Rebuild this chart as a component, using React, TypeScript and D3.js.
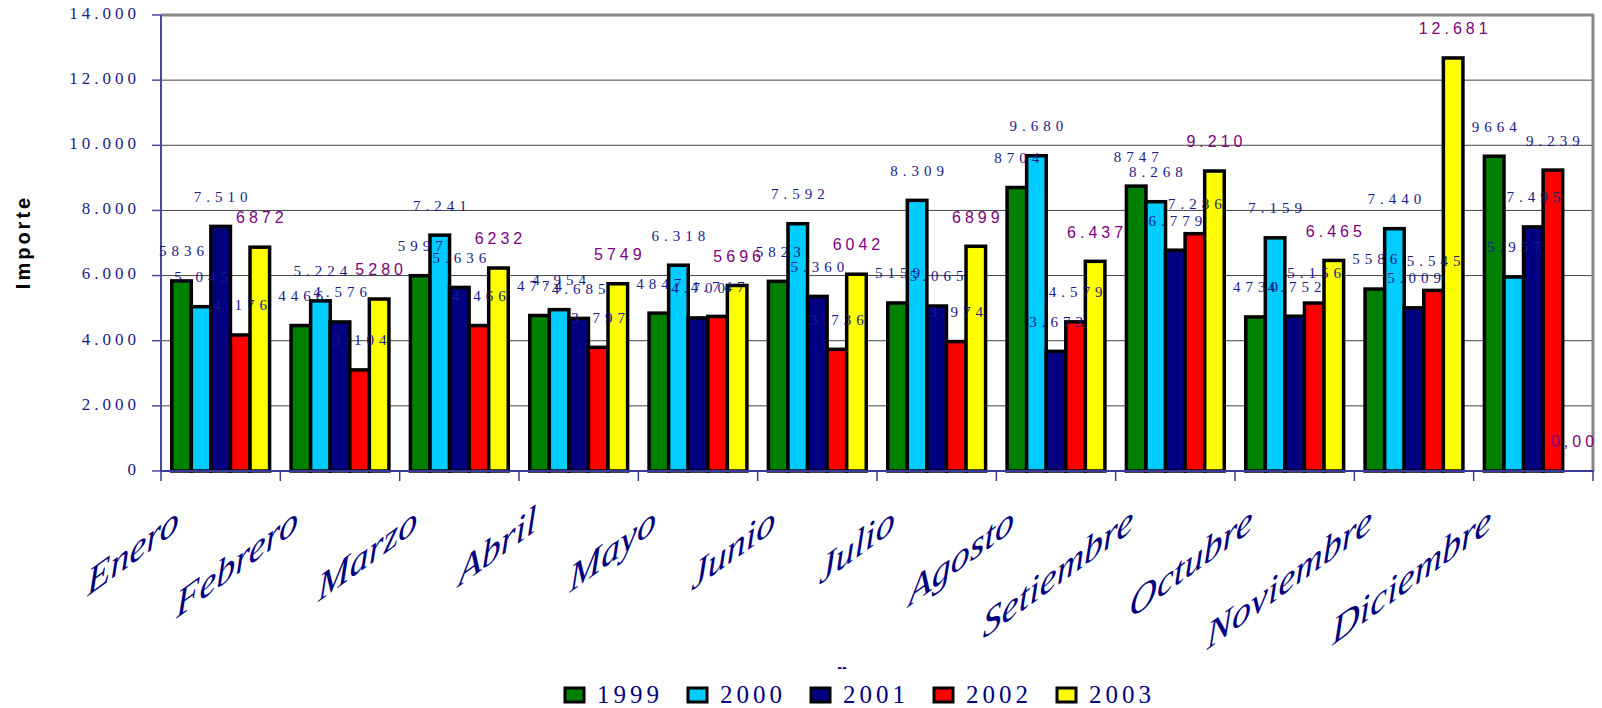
import * as d3 from 'd3'

// months + years
const months = ['Enero', 'Febrero', 'Marzo', 'Abril', 'Mayo', 'Junio', 'Julio', 'Agosto', 'Setiembre', 'Octubre', 'Noviembre', 'Diciembre']
const years = ['1999', '2000', '2001', '2002', '2003']

const v1999 = [5836, 4466, 5997, 4774, 4847, 5823, 5159, 8704, 8747, 4730, 5586, 9664]
const v2000 = [5045, 5224, 7241, 4954, 6318, 7592, 8309, 9680, 8268, 7159, 7440, 5957]
const v2001 = [7510, 4576, 5636, 4685, 4700, 5360, 5065, 3673, 6779, 4752, 5009, 7495]
const v2002 = [4176, 3104, 4466, 3797, 4747, 3736, 3974, 4579, 7286, 5156, 5545, 9239]
const v2003 = [6872, 5280, 6232, 5749, 5696, 6042, 6899, 6437, 9210, 6465, 12681, 0]

// labels exactly as printed on the chart
const t1999 = ['5836', '4466', '5997', '4774', '4847', '5823', '5159', '8704', '8747', '4730', '5586', '9664']
const t2000 = ['5.045', '5.224', '7.241', '4.954', '6.318', '7.592', '8.309', '9.680', '8.268', '7.159', '7.440', '5.957']
const t2001 = ['7.510', '4.576', '5.636', '4.685', '4.700', '5.360', '5.065', '3.673', '6.779', '4.752', '5.009', '7.495']
const t2002 = ['4.176', '3.104', '4.466', '3.797', '4.747', '3.736', '3.974', '4.579', '7.286', '5.156', '5.545', '9.239']
const t2003 = ['6872', '5280', '6232', '5749', '5696', '6042', '6899', '6.437', '9.210', '6.465', '12.681', '0,00']

const yTicks = [0, 2000, 4000, 6000, 8000, 10000, 12000, 14000]
const yTickLabels = ['0', '2.000', '4.000', '6.000', '8.000', '10.000', '12.000', '14.000']

const colors = ['#008000', '#00CCFF', '#000080', '#FF0000', '#FFFF00']

const W = 1602
const H = 708
const left = 161
const right = 1593
const top = 15
const bottom = 471

const navy = '#1a1a88'

export default function App() {
  const values = [v1999, v2000, v2001, v2002, v2003]
  const texts = [t1999, t2000, t2001, t2002, t2003]

  const y = d3.scaleLinear().domain([0, 14000]).range([bottom, top])
  const x0 = d3.scaleBand<string>().domain(months).range([left, right]).paddingInner(0.18).paddingOuter(0.09)
  const x1 = d3.scaleBand<string>().domain(years).range([0, x0.bandwidth()])
  const step = x0.step()

  const bars: { x: number; y: number; w: number; h: number; c: string; key: string }[] = []
  const labels: { x: number; y: number; t: string; s: number; key: string }[] = []
  years.forEach((yr, si) => {
    months.forEach((m, mi) => {
      const v = values[si][mi]
      const bx = (x0(m) as number) + (x1(yr) as number)
      bars.push({ x: bx, y: y(v), w: x1.bandwidth(), h: y(0) - y(v), c: colors[si], key: yr + m })
      labels.push({ x: bx + x1.bandwidth() / 2, y: y(v) - 28, t: texts[si][mi], s: si, key: 'l' + yr + m })
    })
  })

  return (
    <svg width={W} height={H} style={{ position: 'absolute', left: 0, top: 0, display: 'block', background: '#fff' }}>
      {/* gridlines */}
      {yTicks.slice(1, -1).map(t => (
        <line key={t} x1={left} x2={right} y1={y(t)} y2={y(t)} stroke="#444" strokeWidth={1} />
      ))}
      {/* frame top / right */}
      <line x1={left} x2={right + 1} y1={top} y2={top} stroke="#888" strokeWidth={3} />
      <line x1={right} x2={right} y1={top} y2={bottom} stroke="#888" strokeWidth={3} />

      {/* bars */}
      {bars.filter(b => b.h > 0).map(b => (
        <rect key={b.key} x={b.x} y={b.y} width={b.w} height={b.h} fill={b.c} stroke="#000" strokeWidth={3.5} />
      ))}

      {/* y axis */}
      <line x1={left} x2={left} y1={top} y2={bottom} stroke="#4848a0" strokeWidth={2} />
      {yTicks.map((t, i) => (
        <g key={'yt' + t}>
          <line x1={left - 9} x2={left} y1={y(t)} y2={y(t)} stroke="#4848a0" strokeWidth={1.5} />
          <text x={136 + 4} y={y(t)} textAnchor="end" dominantBaseline="middle"
            fontFamily="'Liberation Serif', serif" fontSize={17} letterSpacing={4} fill={navy}>
            {yTickLabels[i]}
          </text>
        </g>
      ))}

      {/* x axis */}
      <line x1={left} x2={right + 1} y1={bottom} y2={bottom} stroke="#3a3a9a" strokeWidth={2} />
      {d3.range(months.length + 1).map(i => (
        <line key={'xt' + i} x1={left + i * step} x2={left + i * step} y1={bottom} y2={bottom + 10} stroke="#3a3a9a" strokeWidth={1.5} />
      ))}
      {months.map(m => {
        const cx = (x0(m) as number) + x0.bandwidth() / 2
        return (
          <text key={'xl' + m} transform={`translate(${cx - 42},530) skewY(-36)`} textAnchor="end"
            fontFamily="'Liberation Serif', serif" fontStyle="italic" fontSize={38} fill="#000080">
            {m}
          </text>
        )
      })}

      {/* data labels */}
      {labels.map(l => l.s === 4 ? (
        <text key={l.key} x={l.x + 2} y={l.y} textAnchor="middle" dominantBaseline="middle"
          fontFamily="'Liberation Sans', Arial, sans-serif" fontSize={16} letterSpacing={4} fill="#800080">
          {l.t}
        </text>
      ) : (
        <text key={l.key} x={l.x + 2.5} y={l.y} textAnchor="middle" dominantBaseline="middle"
          fontFamily="'Liberation Serif', serif" fontSize={15} letterSpacing={5} fill={navy}>
          {l.t}
        </text>
      ))}

      {/* axis titles */}
      <text transform="translate(30,242) rotate(-90)" textAnchor="middle"
        fontFamily="'Liberation Sans', Arial, sans-serif" fontWeight="bold" fontSize={20} letterSpacing={3} fill="#000">
        Importe
      </text>
      <text x={842} y={672} textAnchor="middle" fontFamily="'Liberation Sans', Arial, sans-serif"
        fontWeight="bold" fontSize={14} fill="#000080">--</text>

      {/* legend */}
      {years.map((yr, i) => (
        <g key={'lg' + yr} transform={`translate(${565 + i * 123},688)`}>
          <rect x={0} y={0} width={19} height={14} fill={colors[i]} stroke="#000" strokeWidth={3} />
          <text x={32} y={15} fontFamily="'Liberation Serif', serif" fontSize={25} letterSpacing={4} fill="#000080">
            {yr}
          </text>
        </g>
      ))}
    </svg>
  )
}
